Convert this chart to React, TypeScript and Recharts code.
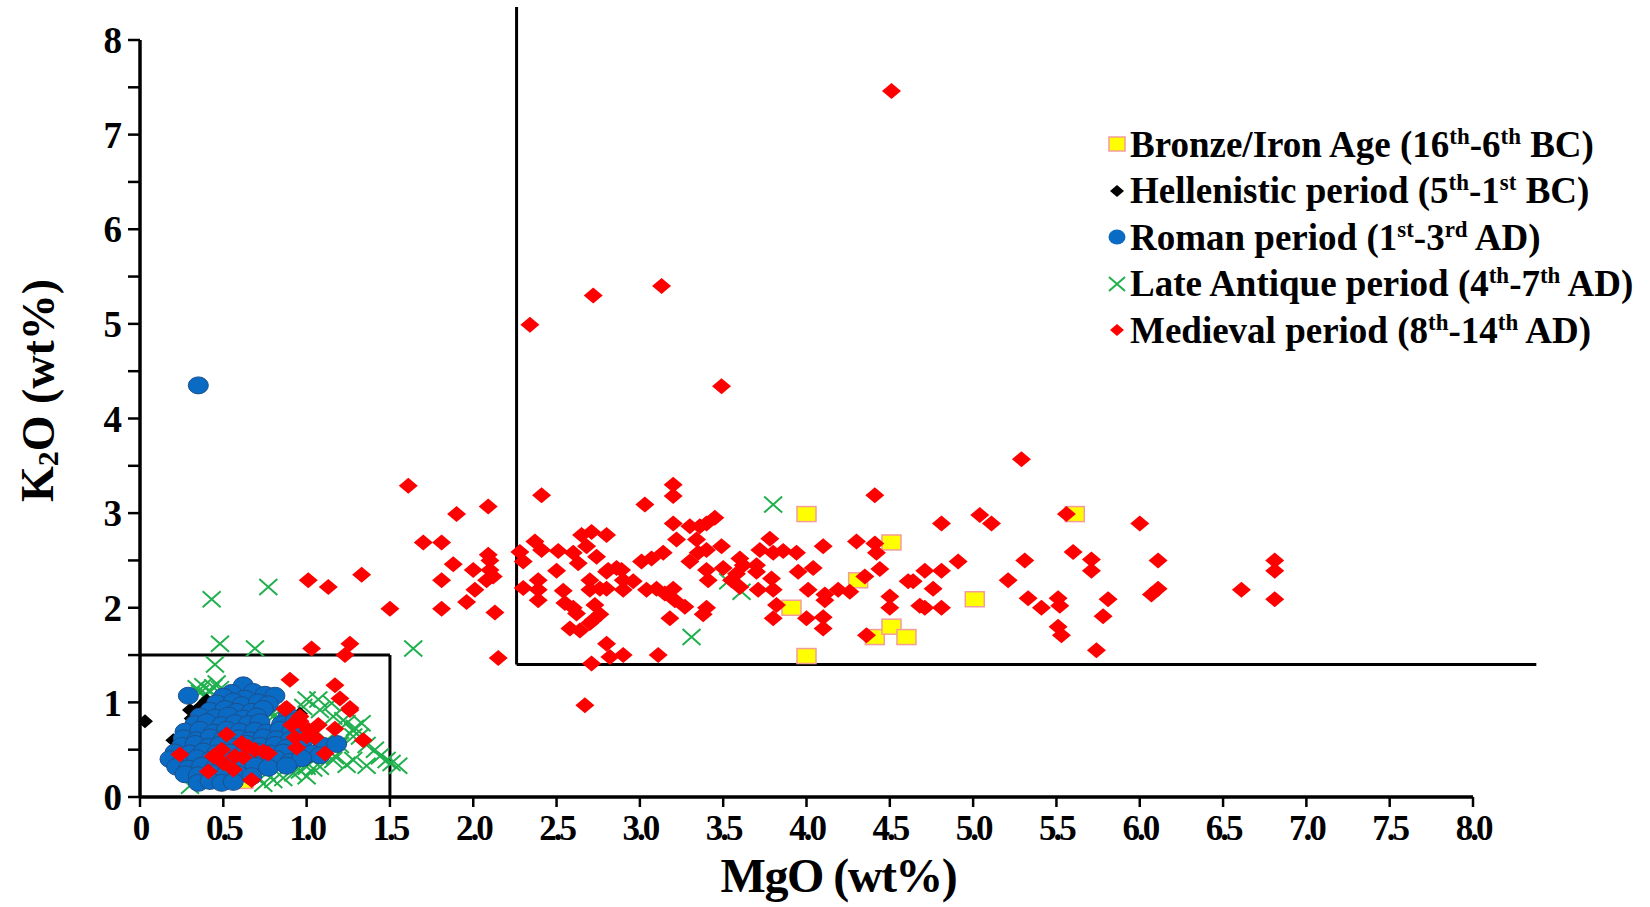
import React from "react";
import {
  ScatterChart,
  Scatter,
  XAxis,
  YAxis,
  ReferenceLine,
  Legend,
} from "recharts";

const FONT = "'Liberation Serif', 'Times New Roman', serif";

const X_TICKS = [0, 0.5, 1, 1.5, 2, 2.5, 3, 3.5, 4, 4.5, 5, 5.5, 6, 6.5, 7, 7.5, 8];
const Y_TICKS = [0, 0.5, 1, 1.5, 2, 2.5, 3, 3.5, 4, 4.5, 5, 5.5, 6, 6.5, 7, 7.5, 8];

// [MgO, K2O] wt%
const bronzeIron: [number, number][] = [
  [4.0, 2.99], [4.51, 2.69], [4.31, 2.29], [3.91, 2.0], [4.0, 1.49],
  [4.41, 1.69], [4.51, 1.8], [4.6, 1.69], [5.01, 2.09], [5.61, 2.99],
  [0.62, 0.17],
];

const hellenistic: [number, number][] = [
  [0.03, 0.8], [0.2, 0.6], [0.3, 0.92], [0.31, 0.83], [0.32, 0.76],
  [0.4, 1.02], [0.36, 0.95], [0.96, 0.88], [1.0, 0.4], [0.97, 0.48],
  [0.28, 0.7], [0.42, 0.98],
];

const roman: [number, number][] = [
  [0.35, 4.35],
  [0.62, 1.18], [0.55, 1.1], [0.68, 1.11], [0.75, 1.08], [0.81, 1.07],
  [0.29, 1.07], [0.5, 1.06], [0.63, 1.04],
  [0.46, 0.99], [0.56, 1.01], [0.61, 0.97], [0.71, 1.0], [0.77, 0.98],
  [0.42, 0.91], [0.51, 0.93], [0.58, 0.9], [0.67, 0.9], [0.74, 0.93],
  [0.36, 0.85], [0.45, 0.84], [0.53, 0.86], [0.62, 0.83], [0.7, 0.85], [0.89, 0.86],
  [0.33, 0.77], [0.4, 0.79], [0.49, 0.76], [0.57, 0.78], [0.65, 0.77], [0.72, 0.79], [0.85, 0.77], [0.93, 0.8],
  [0.27, 0.69], [0.36, 0.71], [0.44, 0.68], [0.52, 0.71], [0.6, 0.69], [0.69, 0.7], [0.76, 0.68], [0.84, 0.71], [0.91, 0.69],
  [0.26, 0.62], [0.34, 0.6], [0.42, 0.63], [0.5, 0.61], [0.59, 0.62], [0.66, 0.6], [0.74, 0.63], [0.82, 0.61], [0.9, 0.6], [0.99, 0.62],
  [0.25, 0.54], [0.33, 0.56], [0.41, 0.53], [0.48, 0.55], [0.56, 0.53], [0.64, 0.56], [0.72, 0.54], [0.81, 0.55], [0.88, 0.52], [1.1, 0.54], [1.18, 0.56],
  [0.21, 0.47], [0.3, 0.46], [0.38, 0.48], [0.46, 0.46], [0.54, 0.47], [0.62, 0.45], [0.7, 0.48], [0.78, 0.46], [0.86, 0.47], [1.03, 0.46], [1.08, 0.44],
  [0.18, 0.4], [0.26, 0.38], [0.34, 0.41], [0.42, 0.39], [0.5, 0.4], [0.58, 0.38], [0.66, 0.41], [0.74, 0.39], [0.82, 0.4], [0.9, 0.37], [0.97, 0.41],
  [0.22, 0.32], [0.29, 0.3], [0.37, 0.33], [0.45, 0.31], [0.53, 0.32], [0.61, 0.3], [0.69, 0.33], [0.77, 0.31], [0.88, 0.33],
  [0.27, 0.24], [0.35, 0.23], [0.43, 0.25], [0.51, 0.23], [0.59, 0.24], [0.67, 0.22],
  [0.35, 0.15], [0.42, 0.17], [0.49, 0.15], [0.56, 0.16],
];

const lateAntique: [number, number][] = [
  [0.43, 2.09], [0.77, 2.22], [0.48, 1.62], [0.69, 1.57], [0.45, 1.4],
  [1.64, 1.57], [3.8, 3.09], [3.31, 1.69], [3.53, 2.28], [3.61, 2.17],
  [0.34, 1.15], [0.38, 1.17], [0.42, 1.12], [0.4, 1.08], [0.44, 1.16],
  [0.46, 1.2], [0.36, 1.1], [0.48, 1.14],
  [0.78, 0.92], [0.8, 0.85], [0.82, 0.81], [0.79, 0.88], [1.0, 1.03],
  [1.07, 1.03], [1.15, 0.99], [1.08, 0.92], [1.16, 0.85], [1.22, 0.81],
  [1.24, 0.78], [1.28, 0.7], [1.29, 0.73], [1.33, 0.78], [1.28, 0.64],
  [1.32, 0.64], [1.36, 0.55], [1.41, 0.5], [1.44, 0.43], [1.48, 0.39],
  [1.51, 0.36], [1.55, 0.33], [1.36, 0.33], [1.24, 0.34], [1.17, 0.43],
  [1.04, 0.3], [1.0, 0.32], [1.08, 0.32], [1.16, 0.39], [1.28, 0.39],
  [1.12, 0.6], [1.2, 0.55], [0.98, 0.95],
  [0.3, 0.12], [0.76, 0.25], [0.8, 0.18], [0.74, 0.14], [0.92, 0.25],
  [0.86, 0.2], [0.96, 0.28], [0.7, 0.22], [1.0, 0.22],
];

const medieval: [number, number][] = [
  [4.51, 7.46], [3.13, 5.4], [2.72, 5.3], [2.34, 4.99], [3.49, 4.34], [5.29, 3.57],
  [1.61, 3.29], [2.09, 3.07], [1.9, 2.99], [1.7, 2.69], [1.81, 2.69], [2.09, 2.56],
  [2.1, 2.5], [1.88, 2.46], [2.0, 2.4], [2.1, 2.4], [2.12, 2.33], [2.08, 2.29],
  [1.81, 2.29], [2.01, 2.19], [1.96, 2.06], [1.81, 1.99], [2.13, 1.95], [1.5, 1.99],
  [1.33, 2.35], [1.01, 2.29], [1.13, 2.22], [2.15, 1.47], [1.03, 1.57], [1.26, 1.62],
  [1.23, 1.5], [0.9, 1.24], [1.17, 1.18], [1.2, 1.04], [1.26, 0.94], [0.88, 0.94],
  [2.41, 3.19], [3.2, 3.3], [3.2, 3.18], [3.03, 3.09], [4.41, 3.19],
  [3.45, 2.95], [3.4, 2.89], [3.36, 2.86], [3.3, 2.86], [3.2, 2.89],
  [3.22, 2.72], [3.34, 2.72], [2.65, 2.77], [2.71, 2.8], [2.8, 2.77],
  [2.37, 2.7], [2.28, 2.59], [2.41, 2.61], [2.51, 2.6], [2.6, 2.58], [2.68, 2.65],
  [2.74, 2.54], [2.63, 2.47], [2.3, 2.49], [2.5, 2.39], [2.81, 2.4], [2.89, 2.4],
  [3.01, 2.49], [3.07, 2.52], [3.14, 2.58],
  [3.3, 2.49], [3.35, 2.58], [3.4, 2.61], [3.49, 2.65], [3.4, 2.4], [3.41, 2.29],
  [3.5, 2.42], [3.6, 2.52], [3.58, 2.36], [3.55, 2.29], [3.62, 2.45], [3.7, 2.45],
  [3.7, 2.38], [3.6, 2.22], [3.71, 2.19],
  [3.72, 2.61], [3.78, 2.73], [3.8, 2.58], [3.86, 2.6], [3.94, 2.58], [3.79, 2.31],
  [3.8, 2.19], [3.95, 2.38], [4.04, 2.42], [4.01, 2.19], [4.1, 2.65], [4.3, 2.7],
  [4.41, 2.68], [4.42, 2.58], [4.44, 2.41], [4.35, 2.33], [4.61, 2.28], [4.11, 2.14],
  [4.11, 2.08], [4.19, 2.19], [4.26, 2.17], [4.5, 2.12], [4.5, 2.0], [3.82, 2.03],
  [3.8, 1.89], [4.0, 1.89], [4.1, 1.9], [4.1, 1.78], [4.36, 1.71],
  [2.3, 2.21], [2.39, 2.29], [2.39, 2.19], [2.39, 2.08], [2.54, 2.18], [2.55, 2.05],
  [2.6, 2.0], [2.62, 1.94], [2.7, 2.29], [2.7, 2.19], [2.76, 2.2], [2.73, 2.03],
  [2.76, 1.93], [2.72, 1.87], [2.58, 1.78], [2.64, 1.76], [2.7, 1.84],
  [2.8, 2.38], [2.86, 2.42], [2.9, 2.29], [2.9, 2.19], [2.96, 2.28], [2.8, 2.2],
  [3.04, 2.19], [3.1, 2.2], [3.15, 2.15], [3.2, 2.2], [3.21, 2.08], [3.27, 2.01],
  [3.18, 1.89], [3.4, 2.0], [3.38, 1.93],
  [2.8, 1.62], [2.82, 1.48], [2.9, 1.5], [2.71, 1.41], [3.11, 1.5], [2.67, 0.97],
  [4.81, 2.89], [5.04, 2.98], [5.11, 2.89], [5.56, 2.99], [6.0, 2.89], [5.6, 2.59],
  [5.71, 2.51], [5.71, 2.39], [6.11, 2.5], [6.81, 2.5], [6.81, 2.39], [6.81, 2.09],
  [6.61, 2.19], [6.07, 2.14], [6.11, 2.2], [5.31, 2.5], [5.21, 2.29], [5.33, 2.1],
  [5.41, 2.0], [5.51, 2.1], [5.52, 2.02], [5.51, 1.8], [5.53, 1.71], [5.81, 2.09],
  [5.78, 1.91], [5.74, 1.55], [4.91, 2.49], [4.71, 2.39], [4.81, 2.39], [4.64, 2.28],
  [4.76, 2.2], [4.68, 2.02], [4.71, 2.0], [4.81, 2.0],
  [0.24, 0.45], [0.41, 0.27], [0.52, 0.66], [0.49, 0.5], [0.57, 0.43], [0.61, 0.57],
  [0.65, 0.53], [0.69, 0.5], [0.74, 0.48], [0.77, 0.46], [0.44, 0.43], [0.5, 0.36],
  [0.56, 0.29], [0.62, 0.42], [0.67, 0.18], [0.87, 0.93], [0.96, 0.8], [1.01, 0.71],
  [1.07, 0.76], [0.93, 0.63], [0.94, 0.52], [1.05, 0.63], [1.11, 0.46], [1.17, 0.72],
  [0.91, 0.76], [1.34, 0.6], [1.26, 0.92], [0.96, 0.85], [1.0, 0.64],
];

const toPts = (arr: [number, number][]) => arr.map(([x, y]) => ({ x, y }));

const LEGEND = [
  { key: "bronze", label: ["Bronze/Iron Age (16", "th", "-6", "th", " BC)"] },
  { key: "hell", label: ["Hellenistic period (5", "th", "-1", "st", " BC)"] },
  { key: "roman", label: ["Roman period (1", "st", "-3", "rd", " AD)"] },
  { key: "late", label: ["Late Antique period (4", "th", "-7", "th", " AD)"] },
  { key: "med", label: ["Medieval period (8", "th", "-14", "th", " AD)"] },
];

function YellowSquare({ cx, cy }: any) {
  return <rect x={cx - 9.5} y={cy - 7.5} width={19} height={15} fill="#ffff00" stroke="#f49c9c" strokeWidth={1.5} />;
}

function BlackDiamond({ cx, cy }: any) {
  return <path d={`M${cx},${cy - 7}L${cx + 8},${cy}L${cx},${cy + 7}L${cx - 8},${cy}Z`} fill="#000" />;
}

function BlueCircle({ cx, cy }: any) {
  return <ellipse cx={cx} cy={cy} rx={10} ry={8.5} fill="#0a6bc4" stroke="#1d4f8c" strokeWidth={1} />;
}

function GreenCross({ cx, cy }: any) {
  return (
    <path
      d={`M${cx - 9},${cy - 8}L${cx + 9},${cy + 8}M${cx - 9},${cy + 8}L${cx + 9},${cy - 8}`}
      stroke="#21b04e"
      strokeWidth={2}
      fill="none"
    />
  );
}

function RedDiamond({ cx, cy }: any) {
  return <path d={`M${cx},${cy - 8}L${cx + 9.5},${cy}L${cx},${cy + 8}L${cx - 9.5},${cy}Z`} fill="#ff0000" />;
}

function LegendIcon({ k }: { k: string }) {
  const c = 11;
  let shape: React.ReactNode = null;
  if (k === "bronze") shape = <rect x={3} y={4} width={16} height={14} fill="#ffff00" stroke="#f49c9c" strokeWidth={1.5} />;
  if (k === "hell") shape = <path d={`M${c},5L${c + 7},${c}L${c},17L${c - 7},${c}Z`} fill="#000" />;
  if (k === "roman") shape = <ellipse cx={c} cy={c} rx={8.5} ry={7.5} fill="#0a6bc4" />;
  if (k === "late") shape = <path d="M3,4L19,18M3,18L19,4" stroke="#21b04e" strokeWidth={2} />;
  if (k === "med") shape = <path d={`M${c},5L${c + 7},${c}L${c},17L${c - 7},${c}Z`} fill="#ff0000" />;
  return (
    <svg width={22} height={22} style={{ marginRight: 2, flex: "none" }}>
      {shape}
    </svg>
  );
}

function renderLegend() {
  return (
    <div style={{ fontFamily: FONT, fontWeight: "bold", fontSize: 37, color: "#000" }}>
      {LEGEND.map((l) => (
        <div key={l.key} style={{ display: "flex", alignItems: "center", height: 46.5, whiteSpace: "nowrap" }}>
          <LegendIcon k={l.key} />
          <span>
            {l.label[0]}
            <sup style={{ fontSize: "0.62em", verticalAlign: "0.55em" }}>{l.label[1]}</sup>
            {l.label[2]}
            <sup style={{ fontSize: "0.62em", verticalAlign: "0.55em" }}>{l.label[3]}</sup>
            {l.label[4]}
          </span>
        </div>
      ))}
    </div>
  );
}

function YLabel({ viewBox }: any) {
  const cx = viewBox.x - 2;
  const cy = viewBox.y + viewBox.height * 0.463;
  return (
    <text
      x={cx}
      y={cy}
      transform={`rotate(-90, ${cx}, ${cy})`}
      textAnchor="middle"
      dominantBaseline="central"
      fontFamily={FONT}
      fontWeight="bold"
      fontSize={46}
      fill="#000"
    >
      K<tspan dy={9} fontSize={30}>2</tspan>
      <tspan dy={-9}>O (wt%)</tspan>
    </text>
  );
}

function XLabel({ viewBox }: any) {
  const cx = viewBox.x + viewBox.width * 0.524;
  return (
    <text
      x={cx}
      y={viewBox.y + 95}
      textAnchor="middle"
      fontFamily={FONT}
      fontWeight="bold"
      fontSize={48}
      letterSpacing={-1.5}
      fill="#000"
    >
      MgO (wt%)
    </text>
  );
}

export default function App() {
  return (
    <div style={{ width: 1650, height: 907, background: "#fff" }}>
      <style>{"body{margin:0;background:#fff}"}</style>
      <ScatterChart width={1650} height={907} margin={{ top: 40, right: 177, left: 40, bottom: 50 }}>
        <XAxis
          type="number"
          dataKey="x"
          domain={[0, 8]}
          ticks={X_TICKS}
          interval={0}
          allowDataOverflow
          tickFormatter={(v: number) => (v === 0 ? "0" : v.toFixed(1))}
          height={60}
          tickSize={10}
          tickMargin={8}
          axisLine={{ stroke: "#000", strokeWidth: 3.5 }}
          tickLine={{ stroke: "#000", strokeWidth: 2.5 }}
          tick={{ fontSize: 35, fontWeight: "bold", fill: "#000", fontFamily: FONT, letterSpacing: -3 }}
          label={<XLabel />}
        />
        <YAxis
          type="number"
          dataKey="y"
          domain={[0, 8]}
          ticks={Y_TICKS}
          interval={0}
          allowDataOverflow
          tickFormatter={(v: number) => (Number.isInteger(v) ? String(v) : "")}
          width={100}
          tickSize={12}
          tickMargin={6}
          axisLine={{ stroke: "#000", strokeWidth: 3.5 }}
          tickLine={{ stroke: "#000", strokeWidth: 2.5 }}
          tick={{ fontSize: 37, fontWeight: "bold", fill: "#000", fontFamily: FONT }}
          label={<YLabel />}
        />
        <ReferenceLine segment={[{ x: 0, y: 1.5 }, { x: 1.5, y: 1.5 }]} stroke="#000" strokeWidth={3} ifOverflow="visible" />
        <ReferenceLine segment={[{ x: 1.5, y: 1.5 }, { x: 1.5, y: 0 }]} stroke="#000" strokeWidth={3} ifOverflow="visible" />
        <ReferenceLine segment={[{ x: 2.26, y: 8.35 }, { x: 2.26, y: 1.4 }]} stroke="#000" strokeWidth={3} ifOverflow="visible" />
        <ReferenceLine segment={[{ x: 2.26, y: 1.4 }, { x: 8.38, y: 1.4 }]} stroke="#000" strokeWidth={3} ifOverflow="visible" />
        <Scatter name="Bronze/Iron Age" data={toPts(bronzeIron)} shape={<YellowSquare />} isAnimationActive={false} />
        <Scatter name="Late Antique" data={toPts(lateAntique)} shape={<GreenCross />} isAnimationActive={false} />
        <Scatter name="Hellenistic" data={toPts(hellenistic)} shape={<BlackDiamond />} isAnimationActive={false} />
        <Scatter name="Roman" data={toPts(roman)} shape={<BlueCircle />} isAnimationActive={false} />
        <Scatter name="Medieval" data={toPts(medieval)} shape={<RedDiamond />} isAnimationActive={false} />
        <Legend
          layout="vertical"
          align="center"
          verticalAlign="middle"
          content={renderLegend}
          wrapperStyle={{ left: 1106, top: 121, width: 544, height: "auto" }}
        />
      </ScatterChart>
    </div>
  );
}
